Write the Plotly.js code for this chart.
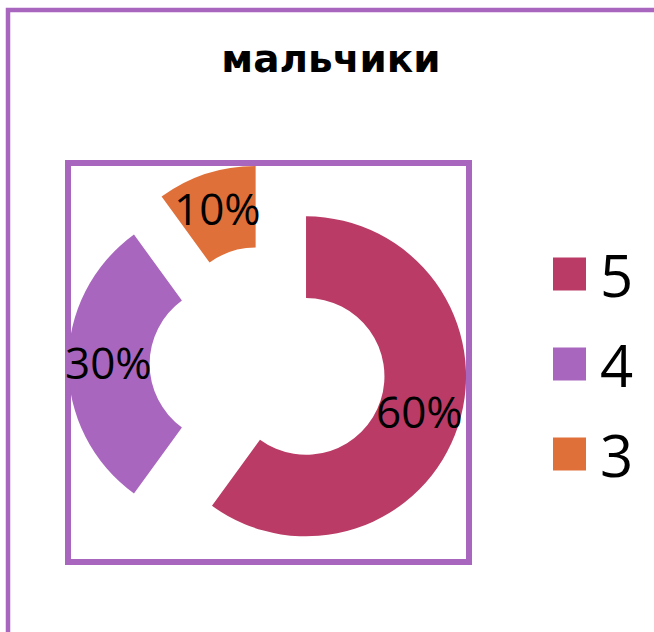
<!DOCTYPE html>
<html>
<head>
<meta charset="utf-8">
<script src="https://cdn.plot.ly/plotly-3.0.1.min.js"></script>
<style>
  html, body { margin: 0; padding: 0; background: #ffffff; }
  #chart { width: 654px; height: 632px; }
</style>
</head>
<body>
<div id="chart"></div>
<script>
// ---- data ----
const chartTitle = 'мальчики';
const gradeLabels = ['5', '4', '3'];
const sharePercent = [60, 30, 10];
const sliceColors = ['#B93B66', '#A866BE', '#E0703A'];
const frameColor = '#A866BE';

// ---- layout geometry (pixels) ----
const W = 654, H = 632;
const px = v => v / W;
const py = v => 1 - v / H;
const plotBox = { left: 68, right: 468, top: 164, bottom: 564 };
const HOLE = 0.49;
const PULL = 0.25;

const pie = {
  type: 'pie',
  labels: gradeLabels,
  values: sharePercent,
  sort: false,
  direction: 'clockwise',
  rotation: 0,
  hole: HOLE,
  pull: gradeLabels.map(() => PULL),
  marker: { colors: sliceColors, line: { width: 0 } },
  textinfo: 'none',
  hoverinfo: 'label+percent',
  showlegend: false,
  domain: { x: [px(plotBox.left), px(plotBox.right)], y: [py(plotBox.bottom), py(plotBox.top)] }
};

// percentage labels placed where Plotly puts horizontal inside text (mid-angle, inscribed circle)
const cx = (plotBox.left + plotBox.right) / 2;
const cy = (plotBox.top + plotBox.bottom) / 2;
const R = Math.min(plotBox.right - plotBox.left, plotBox.bottom - plotBox.top) / 2 / (1 + PULL);
const total = sharePercent.reduce((a, b) => a + b, 0);
let cum = 0;
const pctAnnotations = sharePercent.map(v => {
  const frac = v / total;
  const mid = 2 * Math.PI * (cum + frac / 2);
  cum += frac;
  const half = Math.PI * frac;
  const rIns = Math.min(1 / (1 + 1 / Math.sin(half)), (1 - HOLE) / 2);
  const rad = R * PULL + R * (1 - rIns);
  return {
    xref: 'paper', yref: 'paper',
    x: px(cx + rad * Math.sin(mid)), y: py(cy - rad * Math.cos(mid) - 2),
    xanchor: 'center', yanchor: 'middle', showarrow: false,
    text: Math.round(frac * 100) + '%',
    font: { family: 'Open Sans', size: 44, color: '#000000' }
  };
});

// legend (square swatches + labels)
const legendBox = { left: 553, firstCenter: 274, step: 90, swatch: 33, textGap: 45 };
const legendShapes = gradeLabels.map((g, i) => {
  const yc = legendBox.firstCenter + i * legendBox.step;
  return {
    type: 'rect', xref: 'paper', yref: 'paper',
    x0: px(legendBox.left), x1: px(legendBox.left + legendBox.swatch),
    y0: py(yc + legendBox.swatch / 2), y1: py(yc - legendBox.swatch / 2),
    line: { width: 0 }, fillcolor: sliceColors[i]
  };
});
const legendTexts = gradeLabels.map((g, i) => ({
  xref: 'paper', yref: 'paper',
  x: px(legendBox.left + legendBox.textGap), y: py(legendBox.firstCenter + i * legendBox.step),
  xanchor: 'left', yanchor: 'middle', showarrow: false,
  text: g,
  font: { family: 'Open Sans', size: 58, color: '#000000' }
}));

const layout = {
  width: W,
  height: H,
  margin: { l: 0, r: 0, t: 0, b: 0 },
  paper_bgcolor: '#ffffff',
  plot_bgcolor: '#ffffff',
  title: {
    text: chartTitle,
    x: px(331), xanchor: 'center', xref: 'paper',
    y: py(58), yanchor: 'middle', yref: 'paper',
    font: { family: 'DejaVu Sans', size: 39, color: '#000000', weight: 'bold' }
  },
  showlegend: false,
  annotations: pctAnnotations.concat(legendTexts),
  shapes: [
    { type: 'rect', xref: 'paper', yref: 'paper', x0: px(8), x1: 1.3, y0: -0.3, y1: py(10),
      line: { color: frameColor, width: 4.5 }, fillcolor: 'rgba(0,0,0,0)', layer: 'above' },
    { type: 'rect', xref: 'paper', yref: 'paper', x0: px(68), x1: px(469), y0: py(562), y1: py(163),
      line: { color: frameColor, width: 6 }, fillcolor: 'rgba(0,0,0,0)', layer: 'below' }
  ].concat(legendShapes)
};

Plotly.newPlot('chart', [pie], layout, { staticPlot: true, displayModeBar: false });
</script>
</body>
</html>
